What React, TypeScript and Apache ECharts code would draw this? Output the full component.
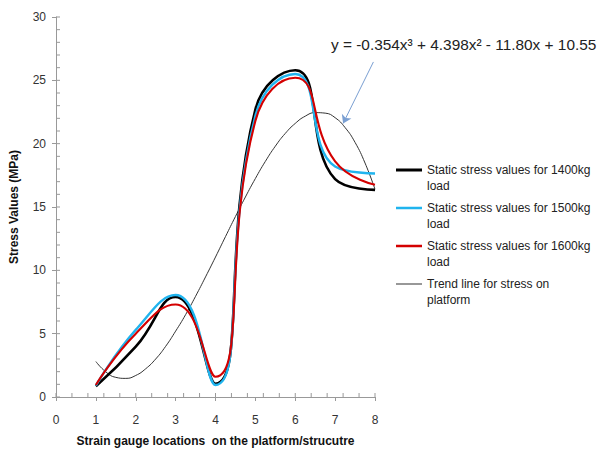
import React, { useEffect, useRef } from "react";
import * as echarts from "echarts";

const locations = [1, 2, 3, 4, 5, 6, 7, 8];
const stress1400 = [0.85, 3.97, 7.9, 1.05, 22.7, 25.8, 17.2, 16.35];
const stress1500 = [0.9, 5.3, 8.05, 0.95, 22.2, 25.5, 18.2, 17.65];
const stress1600 = [0.95, 5.0, 7.3, 1.6, 21.8, 25.2, 18.6, 16.75];
const trendX = [1, 1.25, 1.5, 1.75, 2, 2.25, 2.5, 2.75, 3, 3.25, 3.5, 3.75, 4, 4.25, 4.5, 4.75, 5, 5.25, 5.5, 5.75, 6, 6.25, 6.5, 6.75, 7, 7.25, 7.5, 7.75, 8];
const trendY = [2.8, 1.98, 1.55, 1.47, 1.7, 2.23, 3.0, 4.0, 5.2, 6.5, 7.95, 9.48, 11.05, 12.66, 14.25, 15.79, 17.25, 18.6, 19.8, 20.81, 21.6, 22.17, 22.45, 22.41, 22.05, 21.27, 20.1, 18.47, 16.4];
const xTicks = [0, 8, 1];
const xMinorStep = 0.4;
const yTicks = [0, 30, 5];
const yMinorStep = 1;

const seriesNames = [
  "Static stress values for 1400kg load",
  "Static stress values for 1500kg load",
  "Static stress values for 1600kg load",
  "Trend line for stress on platform",
];
const equation = "y = -0.354x³ + 4.398x² - 11.80x + 10.55";
const arrowFrom = [7.96, 26.45];
const arrowTo = [7.2, 21.6];

const FONT = "'Liberation Sans', Arial, sans-serif";

export default function App() {
  const ref = useRef<HTMLDivElement>(null);
  useEffect(() => {
    if (!ref.current) return;
    const chart = echarts.init(ref.current, undefined, { renderer: "svg" });
    const pairs = (ys: number[]) => locations.map((x, i) => [x, ys[i]]);
    const axisColor = "#999999";
    const xMinor: number[][] = [];
    for (let i = 0; i <= Math.round((xTicks[1] - xTicks[0]) / xMinorStep); i++) {
      xMinor.push([+(xTicks[0] + i * xMinorStep).toFixed(2), yTicks[0]]);
    }
    const yMinor: number[][] = [];
    for (let i = 0; i <= Math.round((yTicks[1] - yTicks[0]) / yMinorStep); i++) {
      yMinor.push([xTicks[0], yTicks[0] + i * yMinorStep]);
    }
    chart.setOption({
      animation: false,
      backgroundColor: "#ffffff",
      textStyle: { fontFamily: FONT },
      grid: { left: 53, right: 228, top: 17, bottom: 55, containLabel: false },
      xAxis: {
        type: "value",
        position: "bottom",
        min: xTicks[0],
        max: xTicks[1],
        interval: xTicks[2],
        name: "Strain gauge locations  on the platform/strucutre",
        nameLocation: "middle",
        nameGap: 38,
        nameTextStyle: { fontWeight: "bold", fontSize: 12, color: "#111", fontFamily: FONT },
        axisLine: { show: true, onZero: false, lineStyle: { color: axisColor, width: 1 } },
        axisTick: { show: true, length: 4, lineStyle: { color: axisColor } },
        axisLabel: { margin: 17, fontSize: 12, color: "#333", fontFamily: FONT },
        splitLine: { show: false },
      },
      yAxis: {
        type: "value",
        position: "left",
        min: yTicks[0],
        max: yTicks[1],
        interval: yTicks[2],
        name: "Stress Values (MPa)",
        nameLocation: "middle",
        nameGap: 36,
        nameRotate: 90,
        nameTextStyle: { fontWeight: "bold", fontSize: 12, color: "#111", fontFamily: FONT },
        axisLine: { show: true, onZero: false, lineStyle: { color: axisColor, width: 1 } },
        axisTick: { show: true, length: 4, lineStyle: { color: axisColor } },
        axisLabel: { margin: 10, fontSize: 12, color: "#333", fontFamily: FONT },
        splitLine: { show: false },
      },
      legend: {
        orient: "vertical",
        left: 396,
        top: 146,
        padding: 0,
        itemWidth: 26,
        itemHeight: 14,
        itemGap: -10,
        data: [
          { name: seriesNames[0], icon: "path://M0,0 L0.01,0 M0,5.5 H26 V8.5 H0 Z M0,14 L0.01,14" },
          { name: seriesNames[1], icon: "path://M0,0 L0.01,0 M0,5.75 H26 V8.25 H0 Z M0,14 L0.01,14" },
          { name: seriesNames[2], icon: "path://M0,0 L0.01,0 M0,5.75 H26 V8.25 H0 Z M0,14 L0.01,14" },
          { name: seriesNames[3], icon: "path://M0,0 L0.01,0 M0,6.5 H26 V7.5 H0 Z M0,14 L0.01,14" },
        ],
        formatter: (n: string) =>
          "\u00a0\n" + (n.endsWith(" load") ? n.replace(/ load$/, "\nload") : n.replace(" platform", "\nplatform")),
        textStyle: { fontSize: 12, lineHeight: 16, color: "#222", fontFamily: FONT },
      },
      graphic: [
        {
          type: "text",
          left: 331,
          top: 37,
          style: { text: equation, fontSize: 15.4, fill: "#222", fontFamily: FONT },
        },
      ],
      series: [
        {
          type: "custom",
          coordinateSystem: "cartesian2d",
          silent: true,
          clip: false,
          data: xMinor,
          renderItem: (params: any, api: any) => {
            const p = api.coord([api.value(0), api.value(1)]);
            return {
              type: "line",
              shape: { x1: p[0], y1: p[1], x2: p[0], y2: p[1] - 4 },
              style: { stroke: axisColor, lineWidth: 1 },
            };
          },
          z: 1,
        },
        {
          type: "custom",
          coordinateSystem: "cartesian2d",
          silent: true,
          clip: false,
          data: yMinor,
          renderItem: (params: any, api: any) => {
            const p = api.coord([api.value(0), api.value(1)]);
            return {
              type: "line",
              shape: { x1: p[0], y1: p[1], x2: p[0] + 4, y2: p[1] },
              style: { stroke: axisColor, lineWidth: 1 },
            };
          },
          z: 1,
        },
        {
          name: seriesNames[3],
          type: "line",
          data: trendX.map((x, i) => [x, trendY[i]]),
          smooth: true,
          showSymbol: false,
          symbol: "none",
          lineStyle: { color: "#333333", width: 1 },
          itemStyle: { color: "#333333" },
          markLine: {
            silent: true,
            symbol: ["none", "arrow"],
            symbolSize: 8,
            label: { show: false },
            lineStyle: { color: "#7a9fd2", width: 1, type: "solid" },
            data: [[{ coord: arrowFrom }, { coord: arrowTo }]],
          },
          z: 2,
        },
        {
          name: seriesNames[0],
          type: "line",
          data: pairs(stress1400),
          smooth: true,
          showSymbol: false,
          symbol: "none",
          lineStyle: { color: "#000000", width: 2.6 },
          itemStyle: { color: "#000000" },
          z: 3,
        },
        {
          name: seriesNames[1],
          type: "line",
          data: pairs(stress1500),
          smooth: true,
          showSymbol: false,
          symbol: "none",
          lineStyle: { color: "#20b4ee", width: 2.4 },
          itemStyle: { color: "#20b4ee" },
          z: 4,
        },
        {
          name: seriesNames[2],
          type: "line",
          data: pairs(stress1600),
          smooth: true,
          showSymbol: false,
          symbol: "none",
          lineStyle: { color: "#d40000", width: 2.1 },
          itemStyle: { color: "#d40000" },
          z: 5,
        },
      ],
    });
    return () => chart.dispose();
  }, []);
  return <div ref={ref} style={{ position: "absolute", left: 0, top: 0, width: 603, height: 452 }} />;
}
